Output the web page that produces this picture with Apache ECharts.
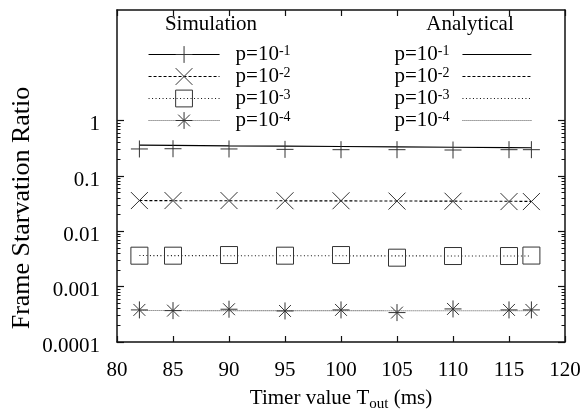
<!DOCTYPE html>
<html><head><meta charset="utf-8">
<script src="https://cdn.jsdelivr.net/npm/echarts@6/dist/echarts.min.js"></script>
<style>html,body{margin:0;padding:0;background:#fff}#c{width:584px;height:411px}</style>
</head><body><div id="c"></div>
<script>
// ---- data ----
const xValues = [82, 85, 90, 95, 100, 105, 110, 115, 117];
const sim1 = [0.308, 0.311, 0.308, 0.303, 0.299, 0.299, 0.295, 0.299, 0.299];
const sim2 = [0.0360, 0.0360, 0.0360, 0.0357, 0.0357, 0.0352, 0.0350, 0.0345, 0.0345];
const sim3 = [0.00363, 0.00363, 0.00373, 0.00363, 0.00373, 0.00334, 0.00358, 0.00358, 0.00365];
const sim4 = [0.000380, 0.000369, 0.000391, 0.000364, 0.000380, 0.000340, 0.000396, 0.000380, 0.000380];
const ana1 = [0.362, 0.357, 0.351, 0.346, 0.341, 0.336, 0.331, 0.326, 0.324];
const ana2 = [0.0360, 0.0358, 0.0357, 0.0356, 0.0355, 0.0353, 0.0351, 0.0349, 0.0348];
const ana3 = [0.00365, 0.00364, 0.00363, 0.00362, 0.00361, 0.00360, 0.00359, 0.00358, 0.00358];
const ana4 = [0.000370, 0.000370, 0.000369, 0.000369, 0.000369, 0.000368, 0.000368, 0.000368, 0.000368];
const pExponents = ['-1', '-2', '-3', '-4'];
const yTickValues = [0.0001, 0.001, 0.01, 0.1, 1];
const yTickLabels = ['0.0001', '0.001', '0.01', '0.1', '1'];
const xMin = 80, xMax = 120, xInterval = 5;
const yMin = 0.0001, yMax = 100;

// ---- styling ----
const FONT = 'Liberation Serif';
const MARK = '#333';
const symbols = [
  'path://M10,0L10,20M0,10L20,10',
  'path://M0,0L20,20M20,0L0,20',
  'rect',
  'path://M10,0L10,20M0,10L20,10M3,3L17,17M17,3L3,17'
];
const dashes = ['solid', [3, 2], [1, 2.5], [1, 1]];
const lineColors = ['#000', '#000', '#111', '#555'];
const simData = [sim1, sim2, sim3, sim4];
const anaData = [ana1, ana2, ana3, ana4];

const minorVals = [];
yTickValues.slice(0, -1).forEach(v => { for (let m = 2; m <= 9; m++) minorVals.push(+(v * m).toPrecision(3)); });

function pairs(arr) { return xValues.map((x, i) => [x, arr[i]]); }

const series = [];
anaData.forEach((d, k) => {
  series.push({
    type: 'line', name: 'ana' + k, data: pairs(d), symbol: 'none', z: 2,
    lineStyle: { color: lineColors[k], width: 1.1, type: dashes[k] },
    itemStyle: { color: lineColors[k] }, silent: true
  });
});
simData.forEach((d, k) => {
  series.push({
    type: 'line', name: 'sim' + k, data: pairs(d), symbol: symbols[k], symbolSize: 17, z: 3,
    showSymbol: true,
    lineStyle: { width: 0, opacity: 0, color: lineColors[k], type: dashes[k] },
    itemStyle: { color: 'rgba(0,0,0,0)', borderColor: MARK, borderWidth: 1 }, silent: true
  });
});

const richText = {
  s: { fontFamily: FONT, fontSize: 14, color: '#000', verticalAlign: 'top', lineHeight: 14 }
};
function legendFmt(name) { const k = +name.slice(3); return 'p=10{s|' + pExponents[k] + '}'; }

const yAxisBase = {
  type: 'log', logBase: 10, min: yMin, max: yMax,
  splitLine: { show: false }, minorTick: { show: false }
};
const frameLine = { show: true, lineStyle: { color: '#111', width: 1.5 } };

const option = {
  animation: false,
  grid: { left: 117, right: 19, top: 10, bottom: 69, containLabel: false, outerBoundsMode: 'none' },
  xAxis: [
    { type: 'value', min: xMin, max: xMax, interval: xInterval, position: 'bottom',
      axisLine: frameLine, splitLine: { show: false },
      axisTick: { inside: true, length: 6, lineStyle: { color: '#111', width: 1.2 } },
      axisLabel: { margin: 18, fontFamily: FONT, fontSize: 21, color: '#000' },
      name: 'Timer value T{b|out} (ms)', nameLocation: 'middle', nameGap: 42,
      nameTextStyle: { fontFamily: FONT, fontSize: 21, color: '#000',
        rich: { b: { fontFamily: FONT, fontSize: 15, color: '#000', verticalAlign: 'bottom', lineHeight: 28 } } } },
    { type: 'value', min: xMin, max: xMax, interval: xInterval, position: 'top',
      axisLine: frameLine, splitLine: { show: false },
      axisTick: { inside: true, length: 6, lineStyle: { color: '#111', width: 1.2 } },
      axisLabel: { show: false } }
  ],
  yAxis: [
    Object.assign({}, yAxisBase, { position: 'left', axisLine: frameLine,
      axisTick: { inside: true, length: 7, customValues: yTickValues, lineStyle: { color: '#111', width: 1.2 } },
      axisLabel: { customValues: yTickValues, margin: 17, fontFamily: FONT, fontSize: 21, color: '#000',
        rich: { t: { fontFamily: FONT, fontSize: 21, color: '#000', padding: [8, 0, 0, 0] } },
        formatter: v => { let best = 0; yTickValues.forEach((t, i) => { if (Math.abs(Math.log10(t) - Math.log10(v)) < Math.abs(Math.log10(yTickValues[best]) - Math.log10(v))) best = i; }); return '{t|' + yTickLabels[best] + '}'; } } }),
    Object.assign({}, yAxisBase, { position: 'left', axisLine: { show: false },
      axisTick: { inside: true, length: 3.5, customValues: minorVals, lineStyle: { color: '#111', width: 1 } },
      axisLabel: { show: false } }),
    Object.assign({}, yAxisBase, { position: 'right', axisLine: frameLine,
      axisTick: { inside: true, length: 7, customValues: yTickValues, lineStyle: { color: '#111', width: 1.2 } },
      axisLabel: { show: false } }),
    Object.assign({}, yAxisBase, { position: 'right', axisLine: { show: false },
      axisTick: { inside: true, length: 3.5, customValues: minorVals, lineStyle: { color: '#111', width: 1 } },
      axisLabel: { show: false } })
  ],
  legend: [
    { orient: 'vertical', left: 143, top: 39, itemWidth: 71, itemHeight: 21, itemGap: 1,
      data: simData.map((d, k) => ({ name: 'sim' + k,
        lineStyle: { width: 1.1, opacity: 1, color: lineColors[k], type: dashes[k] },
        itemStyle: { color: 'rgba(0,0,0,0)', borderColor: MARK, borderWidth: 1 } })),
      formatter: legendFmt, selectedMode: false,
      textStyle: { fontFamily: FONT, fontSize: 21, color: '#000', padding: [0, 0, 0, 11], rich: richText } },
    { orient: 'vertical', right: 47, top: 39, itemWidth: 69, itemHeight: 21, itemGap: 1, align: 'right',
      data: anaData.map((d, k) => ({ name: 'ana' + k, itemStyle: { opacity: 0 },
        lineStyle: { width: 1.1, opacity: 1, color: lineColors[k], type: dashes[k] } })),
      formatter: legendFmt, selectedMode: false,
      textStyle: { fontFamily: FONT, fontSize: 21, color: '#000', padding: [0, 8, 0, 0], rich: richText } }
  ],
  graphic: [
    { type: 'text', x: 211, y: 24, silent: true,
      style: { text: 'Simulation', fontFamily: FONT, fontSize: 21, fill: '#000', align: 'center', verticalAlign: 'middle' } },
    { type: 'text', x: 470, y: 24, silent: true,
      style: { text: 'Analytical', fontFamily: FONT, fontSize: 21, fill: '#000', align: 'center', verticalAlign: 'middle' } },
    { type: 'text', x: 22, y: 208, rotation: Math.PI / 2, silent: true,
      style: { text: 'Frame Starvation Ratio', fontFamily: FONT, fontSize: 26, fill: '#000', align: 'center', verticalAlign: 'middle' } }
  ],
  series: series
};
const chart = echarts.init(document.getElementById('c'), null, { renderer: 'canvas' });
chart.setOption(option);
</script></body></html>
